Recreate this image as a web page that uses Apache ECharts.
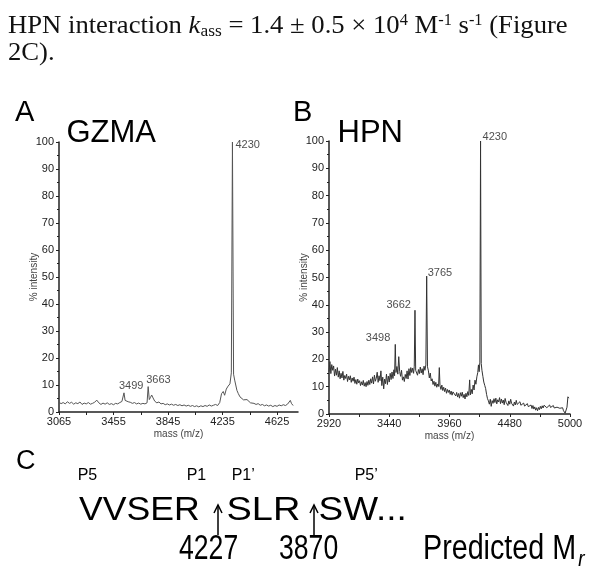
<!DOCTYPE html>
<html>
<head>
<meta charset="utf-8">
<script src="https://cdn.jsdelivr.net/npm/echarts@6/dist/echarts.min.js"></script>
<style>
html, body { margin: 0; padding: 0; background: #fff; }
#main { width: 600px; height: 566px; }
</style>
</head>
<body>
<div id="main"></div>
<script>
// tick labels of the two mass axes
var gzmaTicks = [3065, 3455, 3845, 4235, 4625];
var hpnTicks = [2920, 3440, 3960, 4480, 5000];

// GZMA spectrum, [mass, % intensity]
var gzmaSpectrum = [
  [3065,3.6],[3080,3.1],[3095,3.5],[3110,3.0],[3125,3.8],[3140,3.2],[3155,3.6],[3170,2.9],[3185,3.4],[3200,3.1],
  [3215,3.7],[3230,2.8],[3245,3.3],[3260,3.0],[3275,3.5],[3290,2.9],[3305,3.2],[3320,3.6],[3335,4.4],[3350,3.4],
  [3365,2.8],[3380,3.3],[3395,2.9],[3410,3.4],[3425,2.8],[3440,3.1],[3455,2.7],[3470,3.2],[3485,3.0],[3500,3.5],
  [3515,3.9],[3530,7.1],[3538,4.3],[3546,4.8],[3560,3.8],[3575,3.6],[3590,3.2],[3605,3.5],[3620,3.0],[3635,3.3],
  [3650,2.9],[3665,3.2],[3680,3.0],[3695,3.4],[3703,9.4],[3711,4.6],[3720,5.4],[3728,6.3],[3738,5.2],[3750,4.0],
  [3765,3.4],[3780,3.7],[3795,3.0],[3810,3.2],[3825,2.7],[3840,3.0],[3855,2.6],[3870,2.9],[3885,2.5],[3900,2.8],
  [3915,2.4],[3930,2.7],[3945,2.3],[3960,2.6],[3975,2.2],[3990,2.5],[4005,2.1],[4020,2.4],[4035,2.0],[4050,2.3],
  [4065,1.9],[4080,2.3],[4095,2.0],[4110,2.4],[4125,2.1],[4140,2.6],[4155,2.2],[4170,2.5],[4185,2.8],[4200,2.4],
  [4215,3.5],[4228,6.8],[4240,7.6],[4250,6.2],[4262,8.5],[4275,9.6],[4288,10.4],[4298,14.5],[4306,100],[4314,14.0],
  [4322,11.8],[4330,12.2],[4338,8.0],[4348,6.8],[4360,5.6],[4372,4.9],[4385,4.5],[4398,3.8],[4410,4.6],[4422,3.9],
  [4435,3.4],[4448,4.1],[4460,3.2],[4475,2.8],[4490,3.1],[4505,2.5],[4520,2.8],[4535,2.3],[4550,2.6],[4565,2.2],
  [4580,2.5],[4595,2.0],[4610,2.4],[4625,2.1],[4640,2.6],[4655,2.3],[4670,2.7],[4685,2.4],[4700,2.9],[4712,3.6],
  [4720,4.3],[4728,3.2],[4740,2.4]
];

// HPN spectrum, [mass, % intensity]
var hpnSpectrum = [
  [2920,15.5],[2928,19.2],[2936,14.8],[2944,18.1],[2952,16.0],[2960,17.6],[2968,13.9],[2976,16.4],[2984,14.2],[2992,17.0],
  [3000,13.5],[3008,15.8],[3016,12.9],[3024,14.9],[3032,13.2],[3040,15.6],[3048,12.4],[3056,14.1],[3064,13.0],[3072,14.6],
  [3080,11.9],[3088,13.8],[3096,12.5],[3104,14.0],[3112,11.6],[3120,13.2],[3128,12.0],[3136,13.5],[3144,11.2],[3152,12.6],
  [3160,10.9],[3168,12.8],[3176,11.4],[3184,12.2],[3192,10.4],[3200,11.8],[3208,10.6],[3216,12.3],[3224,10.2],[3232,11.5],
  [3240,10.0],[3248,11.9],[3256,10.5],[3264,12.4],[3272,10.8],[3280,12.9],[3288,11.3],[3296,13.6],[3304,11.0],[3312,14.2],
  [3320,12.0],[3328,13.1],[3336,15.3],[3344,11.6],[3352,14.0],[3360,12.2],[3368,15.8],[3376,10.4],[3384,13.5],[3392,9.2],
  [3400,12.8],[3408,11.1],[3416,14.6],[3424,10.8],[3432,13.9],[3440,11.7],[3448,14.9],[3456,12.6],[3464,15.4],[3472,13.0],
  [3480,16.2],[3486,14.0],[3492,25.5],[3498,15.2],[3506,17.4],[3514,14.6],[3522,21.0],[3530,15.5],[3538,13.8],[3546,16.0],
  [3554,12.4],[3562,13.6],[3570,11.9],[3578,14.5],[3586,13.0],[3594,15.8],[3602,12.8],[3610,16.6],[3618,14.1],[3626,17.0],
  [3634,15.2],[3642,16.8],[3650,14.9],[3656,17.5],[3662,38.0],[3668,16.0],[3676,15.4],[3684,14.2],[3692,16.3],[3700,14.8],
  [3708,17.2],[3716,15.0],[3724,16.6],[3732,14.4],[3740,17.5],[3748,16.0],[3756,18.0],[3763,50.5],[3770,17.3],[3778,15.8],
  [3786,13.2],[3794,15.0],[3802,12.1],[3810,12.9],[3818,10.8],[3826,12.0],[3834,10.2],[3842,11.6],[3850,9.8],[3858,11.0],
  [3866,10.1],[3872,17.0],[3878,10.4],[3886,9.0],[3894,10.6],[3902,8.6],[3910,9.8],[3918,8.2],[3926,9.5],[3934,7.6],
  [3942,9.0],[3950,7.9],[3958,8.8],[3966,7.2],[3974,8.4],[3982,6.9],[3990,8.1],[3998,7.4],[4006,8.6],[4014,6.6],
  [4022,7.9],[4030,6.2],[4038,7.5],[4046,5.8],[4054,7.8],[4062,6.5],[4070,8.0],[4078,6.0],[4086,7.2],[4094,5.5],
  [4102,7.6],[4110,6.3],[4118,8.2],[4126,6.8],[4134,12.5],[4140,7.0],[4148,9.0],[4156,7.4],[4164,10.6],[4172,8.8],
  [4180,12.4],[4188,10.9],[4196,13.6],[4204,15.2],[4210,18.0],[4216,15.5],[4222,19.0],[4228,100],[4234,18.5],[4240,16.0],
  [4248,13.8],[4256,11.7],[4264,10.5],[4272,9.3],[4280,7.2],[4288,5.6],[4296,4.8],[4304,3.6],[4312,5.4],[4320,2.8],
  [4328,4.9],[4336,3.9],[4344,5.6],[4352,4.2],[4360,5.8],[4368,3.7],[4376,5.2],[4384,4.4],[4392,6.0],[4400,3.8],
  [4408,5.5],[4416,4.0],[4424,5.1],[4432,3.4],[4440,5.7],[4448,4.3],[4456,5.0],[4464,3.1],[4472,4.8],[4480,3.6],
  [4488,5.4],[4496,3.9],[4504,4.6],[4512,2.9],[4520,4.4],[4528,3.3],[4536,5.0],[4544,3.5],[4552,4.2],[4560,2.8],
  [4568,4.5],[4576,3.2],[4584,3.9],[4592,2.6],[4600,4.0],[4608,2.9],[4616,3.6],[4624,2.4],[4632,3.8],[4640,2.7],
  [4648,3.4],[4656,2.2],[4664,3.3],[4672,2.0],[4680,3.1],[4688,1.8],[4696,2.6],[4704,1.4],[4712,2.3],[4720,1.2],
  [4728,2.4],[4736,1.6],[4744,2.8],[4752,1.9],[4760,3.0],[4768,2.2],[4776,3.2],[4784,2.5],[4792,3.4],[4800,2.3],
  [4808,3.0],[4816,2.0],[4824,3.3],[4832,2.4],[4840,2.9],[4848,1.8],[4856,3.1],[4864,2.2],[4872,2.7],[4880,1.6],
  [4888,2.5],[4896,1.9],[4904,2.8],[4912,2.1],[4920,2.6],[4928,1.5],[4936,2.3],[4944,1.2],[4952,0.8],[4958,0.3],
  [4966,0.9],[4974,2.5],[4982,6.3],[4990,5.8]
];

// labelled peaks: [mass, % intensity, label]
var gzmaPeaks = [[3530, 7.1, '3499'], [3703, 9.4, '3663'], [4306, 100, '4230']];
var hpnPeaks = [[3492, 25.5, '3498'], [3662, 38.0, '3662'], [3763, 50.5, '3765'], [4228, 100, '4230']];

// where each peak label sits
var gzmaLabelPos = [
  { position: 'top', align: 'left', distance: 1, offset: [-5, 0] },
  { position: 'top', align: 'left', distance: 1, offset: [-2, 0] },
  { position: 'right', distance: 3, offset: [0, 3] }
];
var hpnLabelPos = [
  { position: 'left', distance: 5, offset: [0, -6] },
  { position: 'left', distance: 4, offset: [0, -5] },
  { position: 'right', distance: 1, offset: [0, -3] },
  { position: 'right', distance: 2, offset: [0, -4] }
];

var SANS = 'Liberation Sans, Arial, sans-serif';
var SERIF = 'Liberation Serif, Times New Roman, serif';
var AXIS_COLOR = '#222';
var LABEL_COLOR = '#222';

function withMinor(ticks) {
  var out = [];
  for (var i = 0; i < ticks.length; i++) {
    out.push(ticks[i]);
    if (i < ticks.length - 1) out.push((ticks[i] + ticks[i + 1]) / 2);
  }
  return out;
}

function peakData(peaks, pos) {
  return peaks.map(function (p, i) {
    return {
      name: p[2],
      value: [p[0], p[1]],
      label: Object.assign({ show: true }, pos[i])
    };
  });
}

function xAxisFor(idx, min, max, ticks) {
  return {
    type: 'value', gridIndex: idx, min: min, max: max,
    name: 'mass (m/z)', nameLocation: 'middle', nameGap: 17, nameMoveOverlap: false,
    nameTextStyle: { fontSize: 10, color: '#444', fontFamily: SANS },
    axisLine: { lineStyle: { color: AXIS_COLOR, width: 1.5 } },
    axisTick: { show: true, length: 3, customValues: withMinor(ticks), lineStyle: { color: AXIS_COLOR } },
    axisLabel: {
      customValues: ticks, fontSize: 11, color: LABEL_COLOR, margin: 4, fontFamily: SANS,
      formatter: function (v) { return String(v); }
    },
    splitLine: { show: false }
  };
}

function yAxisFor(idx) {
  return {
    type: 'value', gridIndex: idx, min: 0, max: 100, interval: 10,
    name: '% intensity', nameLocation: 'middle', nameGap: 20, nameRotate: 90, nameMoveOverlap: false,
    nameTextStyle: { fontSize: 10, color: '#444', fontFamily: SANS },
    axisLine: { show: true, lineStyle: { color: AXIS_COLOR, width: 1.5 } },
    axisTick: { show: true, length: 3, lineStyle: { color: AXIS_COLOR } },
    minorTick: { show: true, splitNumber: 2, length: 2, lineStyle: { color: AXIS_COLOR } },
    axisLabel: { fontSize: 11, color: LABEL_COLOR, margin: 5, fontFamily: SANS },
    splitLine: { show: false }
  };
}

function txt(x, y, text, size, extra) {
  var el = {
    type: 'text', x: x, y: y, silent: true,
    style: Object.assign({
      text: text, fontSize: size, fontFamily: SANS, fill: '#000',
      align: 'left', verticalAlign: 'middle'
    }, (extra && extra.style) || {})
  };
  if (extra && extra.scaleX) { el.scaleX = extra.scaleX; }
  return el;
}

function arrow(x, top, bottom) {
  return [
    { type: 'line', silent: true, shape: { x1: x, y1: top, x2: x, y2: bottom }, style: { stroke: '#000', lineWidth: 1.5 } },
    { type: 'polyline', silent: true, shape: { points: [[x - 4, top + 8], [x, top], [x + 4, top + 8]] }, style: { stroke: '#000', lineWidth: 1.5, fill: null } }
  ];
}

var chart = echarts.init(document.getElementById('main'), null, { renderer: 'canvas' });

var headerRich = {
  n: { fontSize: 26, fontFamily: SERIF, fill: '#111', lineHeight: 27 },
  i: { fontSize: 26, fontFamily: SERIF, fill: '#111', fontStyle: 'italic', lineHeight: 27 },
  sub: { fontSize: 17, fontFamily: SERIF, fill: '#111', verticalAlign: 'bottom', lineHeight: 27 },
  sup: { fontSize: 16, fontFamily: SERIF, fill: '#111', verticalAlign: 'top', lineHeight: 27 }
};

var graphics = [
  {
    type: 'text', x: 8, y: 13, scaleX: 1.025, silent: true,
    style: {
      text: '{n|HPN interaction }{i|k}{sub|ass}{n| = 1.4 ± 0.5 × 10}{sup|4}{n| M}{sup|-1}{n| s}{sup|-1}{n| (Figure}\n{n|2C).}',
      rich: headerRich, align: 'left', verticalAlign: 'top', fill: '#111'
    }
  },
  txt(15, 112.5, 'A', 29),
  txt(293, 112.5, 'B', 29),
  txt(16, 462, 'C', 27),
  txt(66.5, 133, 'GZMA', 31),
  txt(337.5, 133, 'HPN', 31),
  txt(77.7, 476, 'P5', 16),
  txt(186.7, 476, 'P1', 16),
  txt(231.7, 476, 'P1\u2019', 16),
  txt(354.7, 476, 'P5\u2019', 16),
  txt(79, 510.5, 'VVSER', 33, { scaleX: 1.08 }),
  txt(226.5, 510.5, 'SLR', 33, { scaleX: 1.15 }),
  txt(318.5, 510.5, 'SW...', 33, { scaleX: 1.12 }),
  txt(179, 549.5, '4227', 35, { scaleX: 0.76 }),
  txt(279, 549.5, '3870', 35, { scaleX: 0.76 }),
  txt(423, 549.5, 'Predicted M', 35, { scaleX: 0.82 }),
  txt(578, 560, 'r', 24, { scaleX: 0.82, style: { fontStyle: 'italic' } })
].concat(arrow(218, 505, 535), arrow(314, 505, 535));

var option = {
  animation: false,
  grid: [
    { left: 59, top: 142, width: 239, height: 270 },
    { left: 329, top: 141, width: 241, height: 273 }
  ],
  xAxis: [
    xAxisFor(0, 3065, 4775, gzmaTicks),
    xAxisFor(1, 2920, 5000, hpnTicks)
  ],
  yAxis: [yAxisFor(0), yAxisFor(1)],
  series: [
    {
      type: 'line', xAxisIndex: 0, yAxisIndex: 0, data: gzmaSpectrum,
      showSymbol: false, silent: true, lineStyle: { color: '#555', width: 1 }
    },
    {
      type: 'line', xAxisIndex: 1, yAxisIndex: 1, data: hpnSpectrum,
      showSymbol: false, silent: true, lineStyle: { color: '#333', width: 1 }
    },
    {
      type: 'scatter', xAxisIndex: 0, yAxisIndex: 0, symbolSize: 0, silent: true,
      data: peakData(gzmaPeaks, gzmaLabelPos),
      label: { formatter: '{b}', fontSize: 11, color: LABEL_COLOR, fontFamily: SANS }
    },
    {
      type: 'scatter', xAxisIndex: 1, yAxisIndex: 1, symbolSize: 0, silent: true,
      data: peakData(hpnPeaks, hpnLabelPos),
      label: { formatter: '{b}', fontSize: 11, color: LABEL_COLOR, fontFamily: SANS }
    }
  ],
  graphic: graphics
};

chart.setOption(option);
</script>
</body>
</html>
